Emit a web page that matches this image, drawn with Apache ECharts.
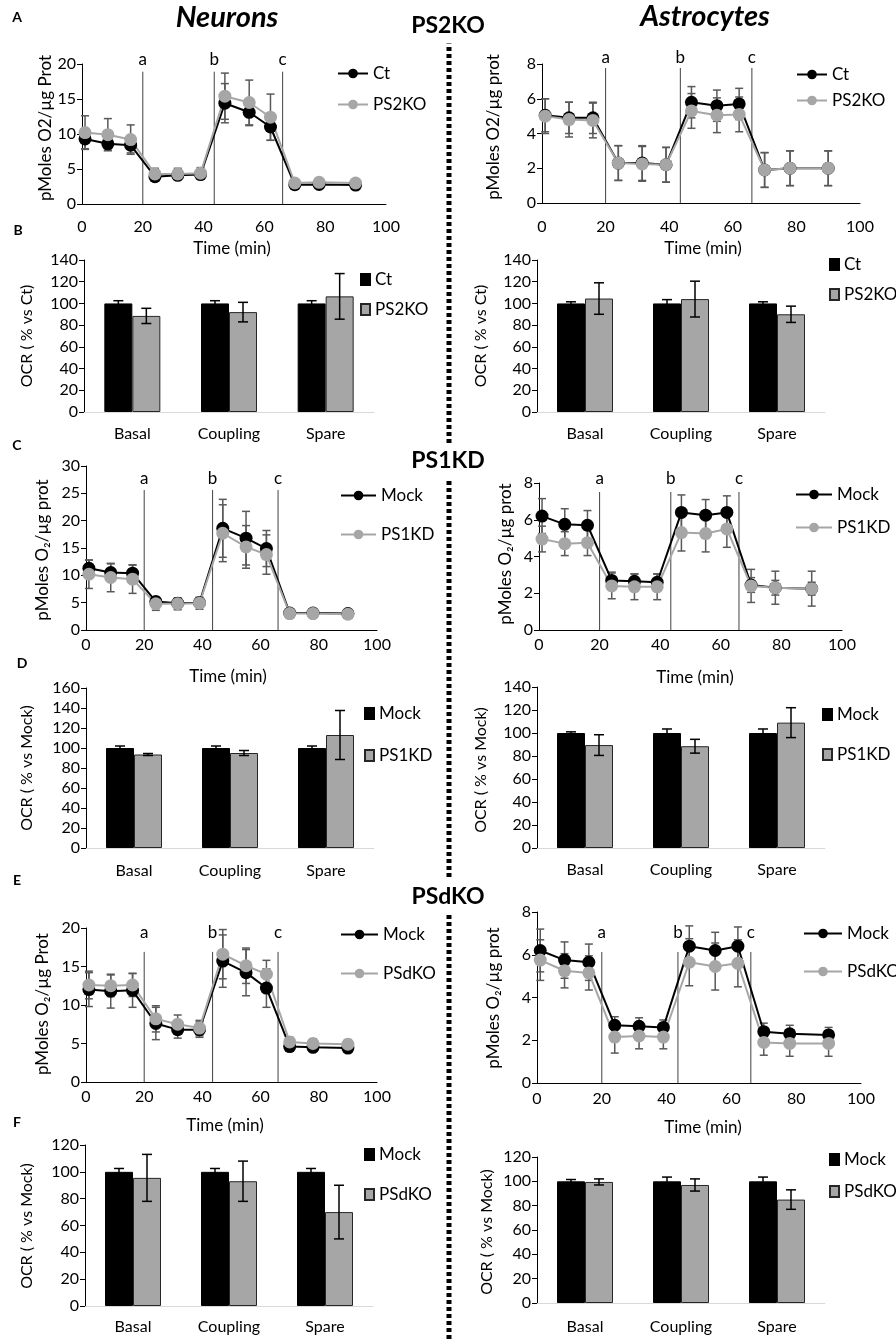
<!DOCTYPE html>
<html>
<head>
<meta charset="utf-8">
<script src="https://cdn.jsdelivr.net/npm/echarts@6/dist/echarts.min.js"></script>
<style>
  html, body { margin: 0; padding: 0; background: #fff; }
  #chart { width: 896px; height: 1339px; }
</style>
</head>
<body>
<div id="chart"></div>
<script>
// ---- shared axes ----
var times = [1, 8.5, 16, 24, 31.5, 39, 47, 55, 62, 70, 78, 90];
var injectionTimes = [20, 43.5, 66];
var injectionNames = ['a', 'b', 'c'];
var barCategories = ['Basal', 'Coupling', 'Spare'];

// ---- A : PS2KO traces ----
var aNeuronCt = [9.3, 8.6, 8.4, 3.9, 4.1, 4.2, 14.4, 13.1, 11.0, 2.75, 2.8, 2.7];
var aNeuronCtErr = [1.4, 0.9, 1.1, 0.4, 0.4, 0.4, 2.8, 1.9, 1.9, 0.3, 0.3, 0.3];
var aNeuronKo = [10.2, 9.9, 9.2, 4.3, 4.3, 4.4, 15.4, 14.5, 12.4, 3.0, 3.1, 3.0];
var aNeuronKoErr = [2.4, 2.3, 2.1, 0.8, 0.8, 0.8, 3.3, 3.2, 3.3, 0.3, 0.3, 0.3];
var aAstroCt = [5.05, 4.9, 4.9, 2.3, 2.3, 2.2, 5.8, 5.6, 5.7, 1.9, 2.0, 2.0];
var aAstroCtErr = [0.95, 0.9, 0.9, 1.0, 1.0, 1.0, 0.9, 0.9, 0.9, 1.0, 1.0, 1.0];
var aAstroKo = [5.0, 4.8, 4.75, 2.3, 2.25, 2.2, 5.3, 5.05, 5.1, 1.9, 2.0, 2.0];
var aAstroKoErr = [1.0, 1.0, 1.0, 1.0, 1.0, 1.0, 1.0, 1.0, 1.0, 1.0, 1.0, 1.0];

// ---- B : PS2KO OCR % ----
var bNeuronCt = [100, 100, 100];
var bNeuronCtErr = [2.5, 2.5, 2.5];
var bNeuronKo = [88.5, 92, 106.5];
var bNeuronKoErr = [7, 9, 21];
var bAstroCt = [100, 100, 100];
var bAstroCtErr = [1.5, 3.5, 1.5];
var bAstroKo = [104.5, 104, 90];
var bAstroKoErr = [14.5, 16.5, 7.5];

// ---- C : PS1KD traces ----
var cNeuronMock = [11.3, 10.5, 10.4, 5.2, 4.9, 5.0, 18.6, 16.8, 14.9, 3.1, 3.1, 3.0];
var cNeuronMockErr = [1.5, 1.6, 1.5, 0.5, 0.4, 0.5, 5.3, 4.9, 3.3, 0.3, 0.3, 0.3];
var cNeuronKd = [10.2, 9.6, 9.3, 4.8, 4.8, 4.9, 17.7, 15.2, 13.8, 3.0, 3.0, 2.9];
var cNeuronKdErr = [2.6, 2.6, 2.6, 1.2, 1.1, 1.1, 5.2, 3.9, 3.6, 0.6, 0.6, 0.6];
var cAstroMock = [6.2, 5.75, 5.7, 2.7, 2.65, 2.6, 6.4, 6.25, 6.4, 2.45, 2.3, 2.25];
var cAstroMockErr = [0.95, 0.85, 0.8, 0.45, 0.4, 0.45, 0.95, 0.85, 0.9, 0.4, 0.4, 0.35];
var cAstroKd = [4.95, 4.7, 4.75, 2.4, 2.35, 2.35, 5.3, 5.25, 5.5, 2.4, 2.3, 2.25];
var cAstroKdErr = [0.7, 0.65, 0.7, 0.7, 0.7, 0.7, 1.0, 1.0, 1.0, 0.9, 0.9, 0.95];

// ---- D : PS1KD OCR % ----
var dNeuronMock = [100, 100, 100];
var dNeuronMockErr = [2, 2, 2];
var dNeuronKd = [93.5, 95, 113];
var dNeuronKdErr = [1, 2.5, 24.5];
var dAstroMock = [100, 100, 100];
var dAstroMockErr = [1, 3.5, 3.5];
var dAstroKd = [89.5, 88.5, 109];
var dAstroKdErr = [9, 6, 13];

// ---- E : PSdKO traces ----
var eNeuronMock = [12.0, 11.8, 11.9, 7.6, 6.8, 6.8, 15.7, 14.2, 12.2, 4.6, 4.5, 4.4];
var eNeuronMockErr = [2.2, 2.2, 2.2, 2.1, 1.1, 1.0, 3.4, 3.0, 2.5, 0.4, 0.4, 0.4];
var eNeuronKo = [12.6, 12.5, 12.6, 8.2, 7.5, 7.0, 16.6, 15.1, 14.0, 5.2, 5.0, 4.9];
var eNeuronKoErr = [1.8, 1.4, 1.5, 1.7, 1.2, 1.0, 3.2, 2.3, 1.8, 0.6, 0.6, 0.6];
var eAstroMock = [6.2, 5.75, 5.65, 2.7, 2.65, 2.6, 6.4, 6.2, 6.4, 2.4, 2.3, 2.25];
var eAstroMockErr = [1.0, 0.85, 0.85, 0.4, 0.4, 0.35, 0.95, 0.85, 0.9, 0.4, 0.4, 0.35];
var eAstroKo = [5.75, 5.25, 5.15, 2.15, 2.2, 2.15, 5.65, 5.45, 5.6, 1.9, 1.85, 1.85];
var eAstroKoErr = [0.95, 0.8, 0.8, 0.75, 0.6, 0.55, 1.1, 1.1, 1.1, 0.6, 0.6, 0.6];

// ---- F : PSdKO OCR % ----
var fNeuronMock = [100, 100, 100];
var fNeuronMockErr = [2.5, 2.5, 2.5];
var fNeuronKo = [95.5, 93, 70];
var fNeuronKoErr = [17.5, 15, 20];
var fAstroMock = [100, 100, 100];
var fAstroMockErr = [1.5, 3.5, 3.5];
var fAstroKo = [99.5, 97, 85];
var fAstroKoErr = [2.5, 5, 8];

var FONT = 'Lato, "Open Sans", "DejaVu Sans", sans-serif';
var BLACK = '#000000';
var GRAY = '#a6a6a6';

var option = {
  animation: false,
  backgroundColor: '#fff',
  grid: [], xAxis: [], yAxis: [], series: [], legend: [], graphic: []
};

function valueYAxis(i, max, step) {
  return {
    type: 'value', gridIndex: i, min: 0, max: max, interval: step,
    axisLine: { show: true, lineStyle: { color: '#000', width: 1 } },
    axisTick: { show: true, length: 5, lineStyle: { color: '#000' } },
    splitLine: { show: false },
    axisLabel: { color: '#000', fontSize: 16, fontFamily: FONT, margin: 6 }
  };
}

function legendFor(names, pos, isBar) {
  return {
    orient: 'vertical', left: pos.left, top: pos.top, itemGap: pos.gap,
    itemWidth: isBar ? 9 : pos.w, itemHeight: isBar ? 11 : 12,
    icon: isBar ? 'rect' : undefined,
    selectedMode: false, padding: 0,
    data: names,
    formatter: function (n) { return n.split('|')[1]; },
    textStyle: { color: '#000', fontSize: 17, fontFamily: FONT }
  };
}

function errorSeries(i, pts, color, capHalf, offset, z) {
  return {
    type: 'custom', xAxisIndex: i, yAxisIndex: i, z: z, silent: true,
    data: pts,
    renderItem: function (params, api) {
      var x = api.value(0), y = api.value(1), e = api.value(2);
      var hi = api.coord([x, y + e]);
      var lo = api.coord([x, y - e]);
      var cx = hi[0] + offset;
      var st = { stroke: color, lineWidth: 1.5 };
      return {
        type: 'group', children: [
          { type: 'line', shape: { x1: cx, y1: hi[1], x2: cx, y2: lo[1] }, style: st },
          { type: 'line', shape: { x1: cx - capHalf, y1: hi[1], x2: cx + capHalf, y2: hi[1] }, style: st },
          { type: 'line', shape: { x1: cx - capHalf, y1: lo[1], x2: cx + capHalf, y2: lo[1] }, style: st }
        ]
      };
    }
  };
}

function addLinePanel(p) {
  var i = option.grid.length;
  option.grid.push(Object.assign({ containLabel: false, outerBoundsMode: 'none' }, p.grid));
  option.xAxis.push({
    type: 'value', gridIndex: i, min: 0, max: 100, interval: 20,
    axisLine: { show: true, onZero: false, lineStyle: { color: '#000', width: 1 } },
    axisTick: { show: false }, splitLine: { show: false },
    axisLabel: { color: '#000', fontSize: 16, fontFamily: FONT, margin: p.labelMargin }
  });
  option.yAxis.push(valueYAxis(i, p.ymax, p.step));

  // injection marks a / b / c
  option.series.push({
    type: 'custom', xAxisIndex: i, yAxisIndex: i, z: 1, silent: true,
    data: injectionTimes.map(function (t) { return [t]; }),
    renderItem: function (params, api) {
      var x = api.value(0);
      var p0 = api.coord([x, 0]);
      var p1 = api.coord([x, p.lineTop]);
      var pl = api.coord([x, p.labelAt]);
      return {
        type: 'group', children: [
          { type: 'line', shape: { x1: p0[0], y1: p0[1], x2: p1[0], y2: p1[1] },
            style: { stroke: '#404040', lineWidth: 1 } },
          { type: 'text', style: { text: injectionNames[params.dataIndex], x: pl[0], y: pl[1],
            align: 'center', verticalAlign: 'middle', fill: '#000', fontSize: 17, fontFamily: FONT } }
        ]
      };
    }
  });

  var names = [];
  p.series.forEach(function (s) {
    option.series.push(errorSeries(i, times.map(function (t, k) { return [t, s.data[k], s.err[k]]; }),
      '#595959', 4, 0, 2));
  });
  p.series.forEach(function (s) {
    names.push(s.name);
    option.series.push({
      type: 'line', name: s.name, xAxisIndex: i, yAxisIndex: i, z: 3,
      data: times.map(function (t, k) { return [t, s.data[k]]; }),
      symbol: 'circle', symbolSize: 13,
      lineStyle: { color: s.color, width: 2 },
      itemStyle: { color: s.color }
    });
  });
  option.legend.push(legendFor(names, p.legend, false));
}

function addBarPanel(p) {
  var i = option.grid.length;
  option.grid.push(Object.assign({ containLabel: false, outerBoundsMode: 'none' }, p.grid));
  option.xAxis.push({
    type: 'category', gridIndex: i, data: barCategories,
    axisLine: { show: true, lineStyle: { color: '#d9d9d9' } },
    axisTick: { show: false },
    axisLabel: { color: '#000', fontSize: 16, fontFamily: FONT, margin: p.labelMargin }
  });
  option.yAxis.push(valueYAxis(i, p.ymax, 20));
  var names = [];
  p.series.forEach(function (s, k) {
    names.push(s.name);
    option.series.push({
      type: 'bar', name: s.name, xAxisIndex: i, yAxisIndex: i, z: 2,
      data: s.data, barWidth: 28, barGap: '0%',
      itemStyle: { color: s.color, borderColor: k === 0 ? '#000' : '#262626', borderWidth: 1 }
    });
  });
  p.series.forEach(function (s, k) {
    option.series.push(errorSeries(i, s.data.map(function (v, j) { return [j, v, s.err[j]]; }),
      '#000', 5, k === 0 ? -14 : 14, 4));
  });
  option.legend.push(legendFor(names, p.legend, true));
}

// ---- panels ----
addLinePanel({
  grid: { left: 82, top: 64, width: 304, height: 140 }, ymax: 20, step: 5, labelMargin: 15,
  lineTop: 18.9, labelAt: 20.6,
  series: [
    { name: 'A1|Ct', data: aNeuronCt, err: aNeuronCtErr, color: BLACK },
    { name: 'A1|PS2KO', data: aNeuronKo, err: aNeuronKoErr, color: GRAY }
  ],
  legend: { left: 337, top: 65, gap: 14, w: 30 }
});
addLinePanel({
  grid: { left: 542, top: 64, width: 318, height: 139 }, ymax: 8, step: 2, labelMargin: 16,
  lineTop: 7.77, labelAt: 8.35,
  series: [
    { name: 'A2|Ct', data: aAstroCt, err: aAstroCtErr, color: BLACK },
    { name: 'A2|PS2KO', data: aAstroKo, err: aAstroKoErr, color: GRAY }
  ],
  legend: { left: 796, top: 66, gap: 9, w: 30 }
});
addBarPanel({
  grid: { left: 84, top: 260, width: 290, height: 152 }, ymax: 140, labelMargin: 14,
  series: [
    { name: 'B1|Ct', data: bNeuronCt, err: bNeuronCtErr, color: BLACK },
    { name: 'B1|PS2KO', data: bNeuronKo, err: bNeuronKoErr, color: GRAY }
  ],
  legend: { left: 360, top: 271, gap: 13 }
});
addBarPanel({
  grid: { left: 537, top: 260, width: 288, height: 152 }, ymax: 140, labelMargin: 14,
  series: [
    { name: 'B2|Ct', data: bAstroCt, err: bAstroCtErr, color: BLACK },
    { name: 'B2|PS2KO', data: bAstroKo, err: bAstroKoErr, color: GRAY }
  ],
  legend: { left: 829, top: 256, gap: 13 }
});
addLinePanel({
  grid: { left: 86, top: 466, width: 291, height: 164 }, ymax: 30, step: 5, labelMargin: 7,
  lineTop: 25.6, labelAt: 27.8,
  series: [
    { name: 'C1|Mock', data: cNeuronMock, err: cNeuronMockErr, color: BLACK },
    { name: 'C1|PS1KD', data: cNeuronKd, err: cNeuronKdErr, color: GRAY }
  ],
  legend: { left: 340, top: 487, gap: 22, w: 35 }
});
addLinePanel({
  grid: { left: 539, top: 483, width: 303, height: 147 }, ymax: 8, step: 2, labelMargin: 7,
  lineTop: 7.51, labelAt: 8.27,
  series: [
    { name: 'C2|Mock', data: cAstroMock, err: cAstroMockErr, color: BLACK },
    { name: 'C2|PS1KD', data: cAstroKd, err: cAstroKdErr, color: GRAY }
  ],
  legend: { left: 795, top: 486, gap: 16, w: 36 }
});
addBarPanel({
  grid: { left: 86, top: 688, width: 288, height: 160 }, ymax: 160, labelMargin: 15,
  series: [
    { name: 'D1|Mock', data: dNeuronMock, err: dNeuronMockErr, color: BLACK },
    { name: 'D1|PS1KD', data: dNeuronKd, err: dNeuronKdErr, color: GRAY }
  ],
  legend: { left: 364, top: 705, gap: 25 }
});
addBarPanel({
  grid: { left: 537, top: 687, width: 288, height: 161 }, ymax: 140, labelMargin: 14,
  series: [
    { name: 'D2|Mock', data: dAstroMock, err: dAstroMockErr, color: BLACK },
    { name: 'D2|PS1KD', data: dAstroKd, err: dAstroKdErr, color: GRAY }
  ],
  legend: { left: 822, top: 706, gap: 23 }
});
addLinePanel({
  grid: { left: 86, top: 928, width: 291, height: 154 }, ymax: 20, step: 5, labelMargin: 7,
  lineTop: 16.9, labelAt: 19.35,
  series: [
    { name: 'E1|Mock', data: eNeuronMock, err: eNeuronMockErr, color: BLACK },
    { name: 'E1|PSdKO', data: eNeuronKo, err: eNeuronKoErr, color: GRAY }
  ],
  legend: { left: 340, top: 926, gap: 22, w: 37 }
});
addLinePanel({
  grid: { left: 537, top: 912, width: 324, height: 171 }, ymax: 8, step: 2, labelMargin: 8,
  lineTop: 6.13, labelAt: 7.02,
  series: [
    { name: 'E2|Mock', data: eAstroMock, err: eAstroMockErr, color: BLACK },
    { name: 'E2|PSdKO', data: eAstroKo, err: eAstroKoErr, color: GRAY }
  ],
  legend: { left: 803, top: 925, gap: 21, w: 38 }
});
addBarPanel({
  grid: { left: 85, top: 1145, width: 288, height: 161 }, ymax: 120, labelMargin: 13,
  series: [
    { name: 'F1|Mock', data: fNeuronMock, err: fNeuronMockErr, color: BLACK },
    { name: 'F1|PSdKO', data: fNeuronKo, err: fNeuronKoErr, color: GRAY }
  ],
  legend: { left: 364, top: 1146, gap: 23 }
});
addBarPanel({
  grid: { left: 537, top: 1157, width: 288, height: 146 }, ymax: 120, labelMargin: 16,
  series: [
    { name: 'F2|Mock', data: fAstroMock, err: fAstroMockErr, color: BLACK },
    { name: 'F2|PSdKO', data: fAstroKo, err: fAstroKoErr, color: GRAY }
  ],
  legend: { left: 829, top: 1151, gap: 15 }
});

// ---- separator first, so headers can mask it ----
option.graphic.push({
  type: 'line', silent: true, z: 0,
  shape: { x1: 449, y1: 40, x2: 449, y2: 1339 },
  style: { stroke: '#000', lineWidth: 5, lineDash: [4, 3] }
});

// ---- titles, letters, axis names ----
function txt(s, x, y, font, rot, bg) {
  option.graphic.push({
    type: 'text', x: x, y: y, rotation: rot || 0, silent: true, z: 10,
    style: { text: s, align: 'center', verticalAlign: 'middle', fill: '#000', font: font,
      backgroundColor: bg ? '#fff' : undefined, padding: bg ? [6, 4] : 0 }
  });
}
var bold14 = 'bold 14px ' + FONT;
var f17 = '17px ' + FONT;
var f16 = '16px ' + FONT;
var up = Math.PI / 2;

txt('A', 17, 17, bold14);
txt('B', 18, 230, bold14);
txt('C', 17, 445, bold14);
txt('D', 22, 663, bold14);
txt('E', 17, 880, bold14);
txt('F', 17, 1122, bold14);

txt('Neurons', 227, 18, 'italic bold 29px ' + FONT);
txt('Astrocytes', 705, 17, 'italic bold 29px ' + FONT);
txt('PS2KO', 448, 26, 'bold 23px ' + FONT, 0, true);
txt('PS1KD', 448, 461, 'bold 23px ' + FONT, 0, true);
txt('PSdKO', 448, 897, 'bold 23px ' + FONT, 0, true);

txt('Time (min)', 232, 249, f17);
txt('Time (min)', 703, 249, f17);
txt('Time (min)', 228, 677, f17);
txt('Time (min)', 695, 678, f17);
txt('Time (min)', 225, 1126, f17);
txt('Time (min)', 703, 1128, f17);

txt('pMoles O2/\u00b5g Prot', 46, 128, f17, up);
txt('pMoles O2/\u00b5g prot', 494, 127, f17, up);
txt('pMoles O\u2082/\u00b5g prot', 43, 550, f17, up);
txt('pMoles O\u2082/\u00b5g prot', 506, 554, f17, up);
txt('pMoles O\u2082/\u00b5g Prot', 43, 1004, f17, up);
txt('pMoles O\u2082/\u00b5g prot', 494, 998, f17, up);

txt('OCR ( % vs Ct)', 27, 336, f16, up);
txt('OCR ( % vs Ct)', 481, 336, f16, up);
txt('OCR ( % vs Mock)', 27, 768, f16, up);
txt('OCR ( % vs Mock)', 481, 770, f16, up);
txt('OCR ( % vs Mock)', 27, 1226, f16, up);
txt('OCR ( % vs Mock)', 487, 1232, f16, up);

var chart = echarts.init(document.getElementById('chart'), null, { renderer: 'canvas', width: 896, height: 1339 });
chart.setOption(option);
</script>
</body>
</html>
